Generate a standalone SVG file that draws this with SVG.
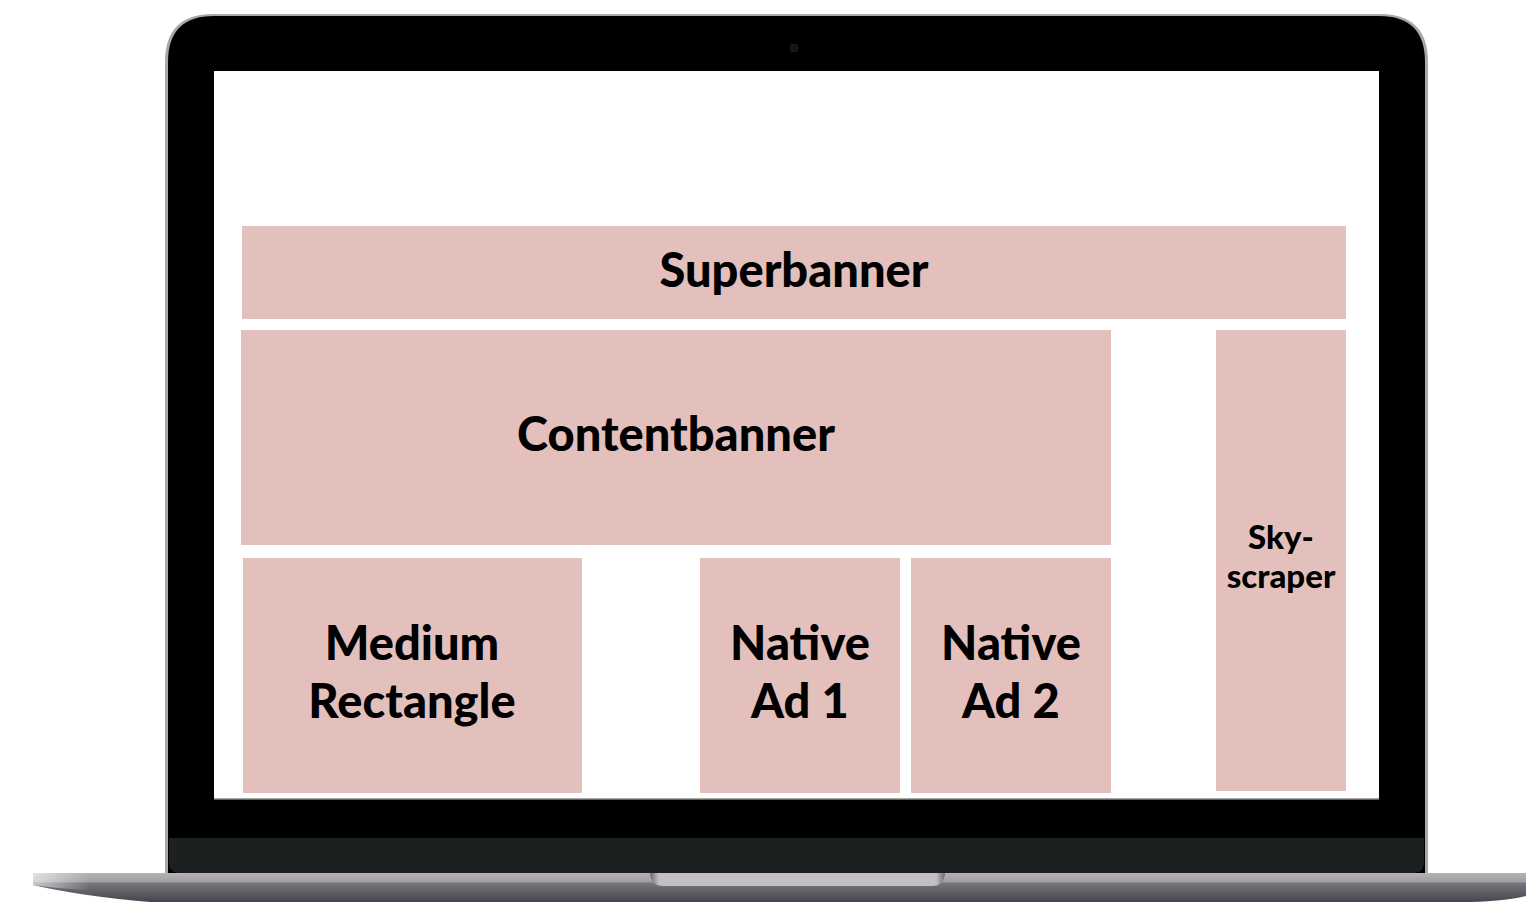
<svg xmlns="http://www.w3.org/2000/svg" width="1526" height="902" viewBox="0 0 1526 902">
<style>
.ad{fill:#e4c0bd}
.lbl{font-family:Lato,"Open Sans","Liberation Sans",sans-serif;font-weight:900;fill:#000;text-anchor:middle}
.big{font-size:47px}
.small{font-size:33px}
</style>
<defs>
<linearGradient id="base" x1="0" y1="0" x2="0" y2="1">
<stop offset="0" stop-color="#b4b2b7"/>
<stop offset="0.3" stop-color="#a09ea4"/>
<stop offset="0.35" stop-color="#77757c"/>
<stop offset="1" stop-color="#47454c"/>
</linearGradient>
<linearGradient id="baseL" x1="0" y1="0" x2="1" y2="0">
<stop offset="0" stop-color="#fff" stop-opacity="0.6"/>
<stop offset="1" stop-color="#fff" stop-opacity="0"/>
</linearGradient>
<linearGradient id="notch" x1="0" y1="0" x2="1" y2="0">
<stop offset="0" stop-color="#6a686e"/>
<stop offset="0.03" stop-color="#c2c0c5"/>
<stop offset="0.97" stop-color="#c2c0c5"/>
<stop offset="1" stop-color="#6a686e"/>
</linearGradient>
</defs>
<rect width="1526" height="902" fill="#fff"/>
<g id="laptop">
<path d="M165 873 V62 Q165 14 213 14 H1380 Q1428 14 1428 62 V873 Z" fill="#a9a9a9"/>
<path d="M168 873 V62 Q168 16 214 16 H1379 Q1425 16 1425 62 V873 Z" fill="#000"/>
<path d="M169 838 H1424 V862 Q1424 873 1413 873 H180 Q169 873 169 862 Z" fill="#1c2021"/>
<circle cx="794" cy="48" r="4" fill="#141414" stroke="#222" stroke-width="1"/>
<rect x="214" y="71" width="1165" height="728" fill="#fff"/>
<line x1="214" y1="799" x2="1379" y2="799" stroke="#888" stroke-width="1.5"/>
<path d="M33 873 H1526 V896 Q1500 902 1460 902 H150 Q80 896 33 885 Z" fill="url(#base)"/>
<path d="M33 873 H90 V890 Q60 889 33 885 Z" fill="url(#baseL)"/>
<path d="M650 873 H945 Q944 886 932 886 H663 Q651 886 650 873 Z" fill="url(#notch)"/>
</g>
<g id="superbanner">
<rect class="ad" x="242" y="226" width="1104" height="93"/>
<text class="lbl big" x="794" y="287">Superbanner</text>
</g>
<g id="contentbanner">
<rect class="ad" x="241" y="330" width="870" height="215"/>
<text class="lbl big" x="676" y="451">Contentbanner</text>
</g>
<g id="medium-rectangle">
<rect class="ad" x="243" y="558" width="339" height="235"/>
<text class="lbl big" x="412" y="660">Medium</text>
<text class="lbl big" x="412" y="718">Rectangle</text>
</g>
<g id="native-ad-1">
<rect class="ad" x="700" y="558" width="200" height="235"/>
<text class="lbl big" x="800" y="660">Native</text>
<text class="lbl big" x="800" y="718">Ad 1</text>
</g>
<g id="native-ad-2">
<rect class="ad" x="911" y="558" width="200" height="235"/>
<text class="lbl big" x="1011" y="660">Native</text>
<text class="lbl big" x="1011" y="718">Ad 2</text>
</g>
<g id="skyscraper">
<rect class="ad" x="1216" y="330" width="130" height="461"/>
<text class="lbl small" x="1281" y="549">Sky-</text>
<text class="lbl small" x="1281" y="588">scraper</text>
</g>
<g id="connectors"/>
</svg>
